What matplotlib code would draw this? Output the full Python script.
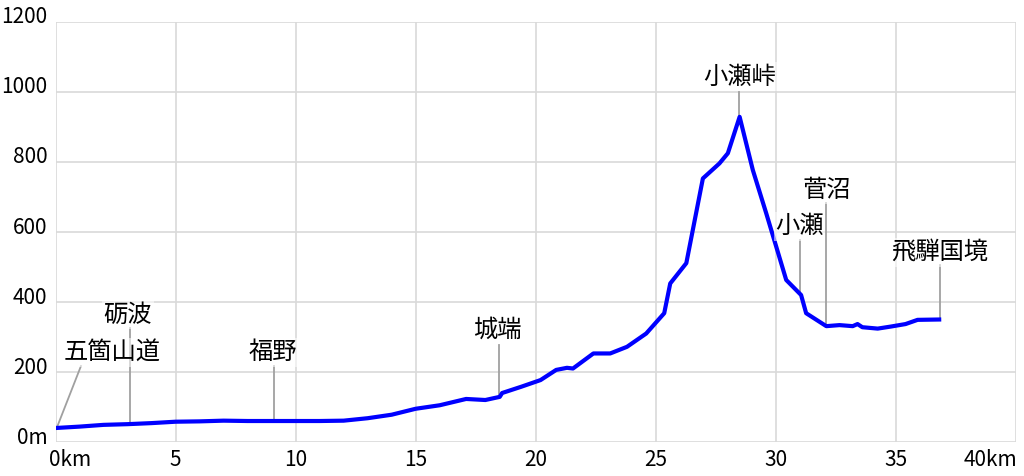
import matplotlib
matplotlib.use('Agg')
import matplotlib.pyplot as plt
import matplotlib.transforms as mtransforms

plt.rcParams['font.family'] = ['Noto Sans CJK JP', 'DejaVu Sans']

# distance (km) and elevation (m)
dist = [0, 1, 2, 3, 4, 5, 6, 7, 8, 9, 10, 11, 12, 13, 14, 15, 16, 17.1, 17.9,
        18.5, 18.6, 19.4, 20.2, 20.85, 21.3, 21.55, 22.4, 23.1, 23.8, 24.6,
        25.35, 25.6, 26.27, 26.96, 27.65, 28.0, 28.49, 29.04, 29.6, 30.43,
        31.05, 31.26, 32.1, 32.65, 33.2, 33.4, 33.6, 34.24, 34.8, 35.4, 35.9, 36.8]
elev = [40, 44, 49, 51, 54, 58, 59, 61, 60, 60, 60, 60, 61, 68, 78, 95, 105, 123, 120,
        129, 140, 158, 177, 206, 212, 210, 253, 253, 272, 310,
        368, 453, 511, 753, 796, 825, 929, 777, 653, 463,
        420, 368, 331, 334, 331, 337, 328, 324, 330, 337, 349, 350]

# place names
names = ['五箇山道', '砺波', '福野', '城端', '小瀬峠', '小瀬', '菅沼', '飛騨国境']
name_km = [0.05, 3.1, 9.1, 18.45, 28.48, 31.02, 32.1, 36.85]
name_elev = [40, 51, 60, 128, 929, 420, 331, 350]
lead_km = [1.06, 3.1, 9.1, 18.45, 28.48, 31.02, 32.1, 36.85]
lead_top = [217, 326, 217, 277, 1001, 577, 683, 506]
label_km = [2.35, 3.02, 9.05, 18.41, 28.48, 30.98, 32.1, 36.81]
label_elev = [257, 363, 257, 320, 1043, 616, 720, 542]

xticks = [0, 5, 10, 15, 20, 25, 30, 35, 40]
xlabels = ['0km', '5', '10', '15', '20', '25', '30', '35', '40km']
yticks = [0, 200, 400, 600, 800, 1000, 1200]
ylabels = ['0m', '200', '400', '600', '800', '1000', '1200']

fig = plt.figure(figsize=(10.24, 4.76), dpi=100)
ax = fig.add_axes([0.0542, 0.0714, 0.938, 0.8824])
ax.set_xlim(0, 40)
ax.set_ylim(0, 1200)
for s in ax.spines.values():
    s.set_visible(False)
ax.set_xticks(xticks)
ax.set_yticks(yticks)
ax.set_xticklabels([])
ax.set_yticklabels([])
ax.tick_params(length=0)
ax.grid(True, color='#d9d9d9', linewidth=1.2)
ax.set_axisbelow(True)

# tick labels drawn by hand so the end ones can be aligned like the original
xtr = ax.get_xaxis_transform() + mtransforms.ScaledTranslation(0, -0.18, fig.dpi_scale_trans)
for i, (t, lab) in enumerate(zip(xticks, xlabels)):
    ha = 'center'
    tr = xtr
    if i == 0:
        ha = 'left'
        tr = xtr + mtransforms.ScaledTranslation(-0.07, 0, fig.dpi_scale_trans)
    elif i == len(xticks) - 1:
        ha = 'right'
        tr = xtr + mtransforms.ScaledTranslation(0.01, 0, fig.dpi_scale_trans)
    ax.text(t, 0, lab, transform=tr, ha=ha, va='center', fontsize=15, clip_on=False)

ytr = ax.get_yaxis_transform() + mtransforms.ScaledTranslation(-0.08, 0.045, fig.dpi_scale_trans)
for t, lab in zip(yticks, ylabels):
    ax.text(0, t, lab, transform=ytr, ha='right', va='center', fontsize=15, clip_on=False)

ax.plot(dist, elev, color='#0000ff', linewidth=3, solid_joinstyle='round', zorder=3)

for i, name in enumerate(names):
    ax.plot([name_km[i], lead_km[i]], [name_elev[i], lead_top[i]],
            color='#a0a0a0', linewidth=1.3, zorder=2)
for i, name in enumerate(names):
    ax.text(label_km[i], label_elev[i], name, fontsize=17.5, ha='center', va='center',
            bbox=dict(facecolor='white', edgecolor='none', alpha=0.55, pad=1), zorder=4)

fig.savefig('out.png', dpi=100)
